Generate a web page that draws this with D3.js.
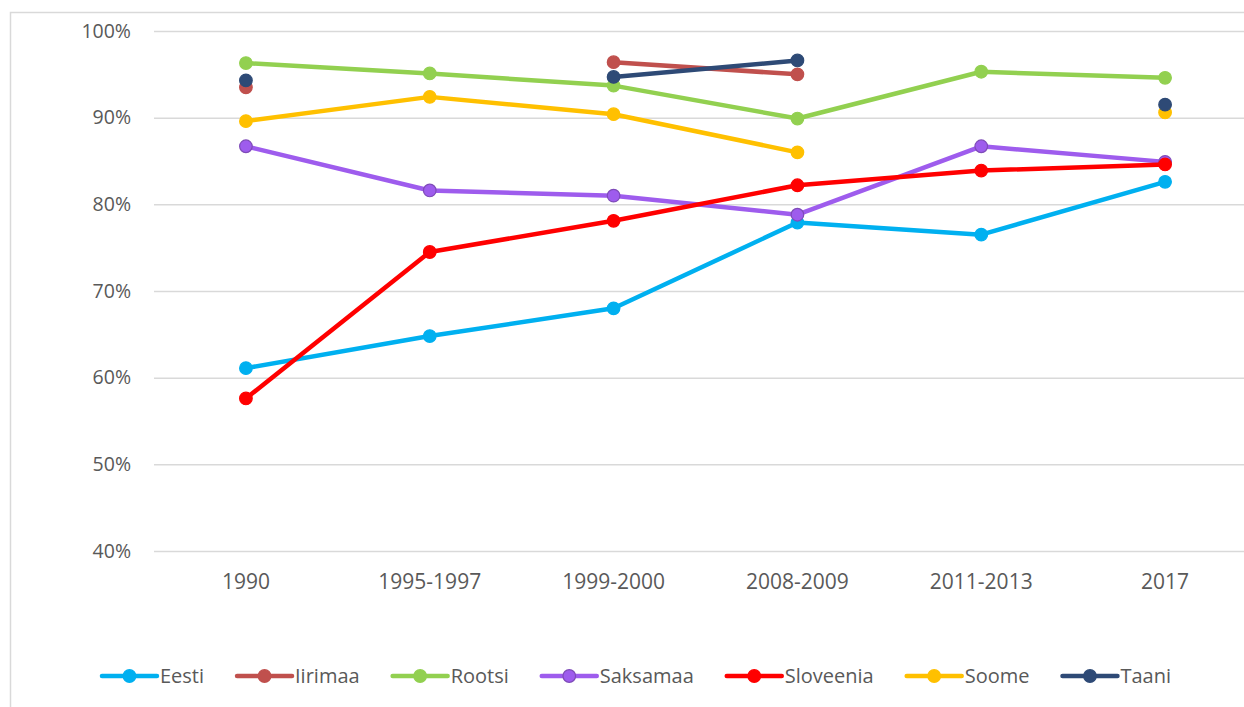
<!DOCTYPE html>
<html lang="et">
<head>
<meta charset="UTF-8">
<title>Chart</title>
<script src="https://d3js.org/d3.v7.min.js"></script>
<style>
  body { margin: 0; background: #fff; }
  text { font-family: "Open Sans", sans-serif; fill: #595959; }
  .gridlines line { stroke: #d9d9d9; stroke-width: 1.5; }
  .gridlines .domain { display: none; }
</style>
</head>
<body>
<svg id="chart" width="1244" height="707"></svg>
<script>
  // data
  const periods = ["1990", "1995-1997", "1999-2000", "2008-2009", "2011-2013", "2017"];
  const countries = ["Eesti", "Iirimaa", "Rootsi", "Saksamaa", "Sloveenia", "Soome", "Taani"];
  const eesti     = [61.1, 64.8, 68.0, 77.9, 76.5, 82.6];
  const iirimaa   = [93.5, null, 96.4, 95.0, null, null];
  const rootsi    = [96.3, 95.1, 93.7, 89.9, 95.3, 94.6];
  const saksamaa  = [86.7, 81.6, 81.0, 78.8, 86.7, 84.9];
  const sloveenia = [57.6, 74.5, 78.1, 82.2, 83.9, 84.6];
  const soome     = [89.6, 92.4, 90.4, 86.0, null, 90.6];
  const taani     = [94.3, null, 94.7, 96.6, null, 91.5];
  const yTicks = [40, 50, 60, 70, 80, 90, 100];

  const seriesValues = [eesti, iirimaa, rootsi, saksamaa, sloveenia, soome, taani];
  const colors = ["#00b0f0", "#c0504d", "#92d050", "#9e5ced", "#ff0000", "#ffc000", "#2e4a76"];
  const markerStroke = ["#00b0f0", "#c0504d", "#92d050", "#7e4bb8", "#ff0000", "#ffc000", "#2e4a76"];

  const svg = d3.select("#chart");

  // chart border (continues past the right/bottom edge in the original)
  svg.append("rect")
    .attr("x", 10.5).attr("y", 12.5)
    .attr("width", 1260).attr("height", 720)
    .attr("fill", "none").attr("stroke", "#d9d9d9").attr("stroke-width", 1.5);

  const plot = { left: 154, right: 1257, top: 31, bottom: 551 };

  const x = d3.scalePoint().domain(periods).range([plot.left, plot.right]).padding(0.5);
  const y = d3.scaleLinear().domain([40, 100]).range([plot.bottom, plot.top]);

  // gridlines
  svg.append("g")
    .attr("class", "gridlines")
    .attr("transform", `translate(${plot.left},0)`)
    .call(d3.axisLeft(y).tickValues(yTicks).tickSize(-(plot.right - plot.left)).tickFormat(""));

  // y labels
  svg.append("g").selectAll("text").data(yTicks)
    .join("text")
    .attr("x", 131)
    .attr("y", d => y(d))
    .attr("dy", "0.35em")
    .attr("text-anchor", "end")
    .attr("font-size", 19.5)
    .text(d => d + "%");

  // x labels
  svg.append("g").selectAll("text").data(periods)
    .join("text")
    .attr("x", d => x(d))
    .attr("y", 582)
    .attr("dy", "0.35em")
    .attr("text-anchor", "middle")
    .attr("font-size", 21)
    .text(d => d);

  const lineGen = d3.line()
    .defined(d => d.v != null)
    .x(d => x(d.p))
    .y(d => y(d.v));

  const lines = svg.append("g");
  seriesValues.forEach((vals, i) => {
    const pts = periods.map((p, j) => ({ p: p, v: vals[j] }));
    const g = lines.append("g");
    g.append("path")
      .datum(pts)
      .attr("fill", "none")
      .attr("stroke", colors[i])
      .attr("stroke-width", 4.5)
      .attr("stroke-linejoin", "round")
      .attr("d", lineGen);
    g.selectAll("circle").data(pts.filter(d => d.v != null))
      .join("circle")
      .attr("cx", d => x(d.p))
      .attr("cy", d => y(d.v))
      .attr("r", 6.3)
      .attr("fill", colors[i])
      .attr("stroke", markerStroke[i])
      .attr("stroke-width", 1.2);
  });

  // legend
  const legend = svg.append("g");
  const items = [];
  const gap = 33;
  let cx = 0;
  countries.forEach((name, i) => {
    const it = legend.append("g");
    it.append("line")
      .attr("x1", 0).attr("x2", 55).attr("y1", 0).attr("y2", 0)
      .attr("stroke", colors[i]).attr("stroke-width", 4.5).attr("stroke-linecap", "round");
    it.append("circle")
      .attr("cx", 27.5).attr("cy", 0).attr("r", 6.3)
      .attr("fill", colors[i]).attr("stroke", markerStroke[i]).attr("stroke-width", 1.2);
    const t = it.append("text")
      .attr("x", 58).attr("y", 0).attr("dy", "0.35em")
      .attr("font-size", 20)
      .text(name);
    const w = 58 + t.node().getComputedTextLength();
    items.push({ g: it, x: cx });
    cx += w + gap;
  });
  const total = cx - gap;
  const start = 636.5 - total / 2;
  items.forEach(d => d.g.attr("transform", `translate(${start + d.x},676)`));
</script>
</body>
</html>
